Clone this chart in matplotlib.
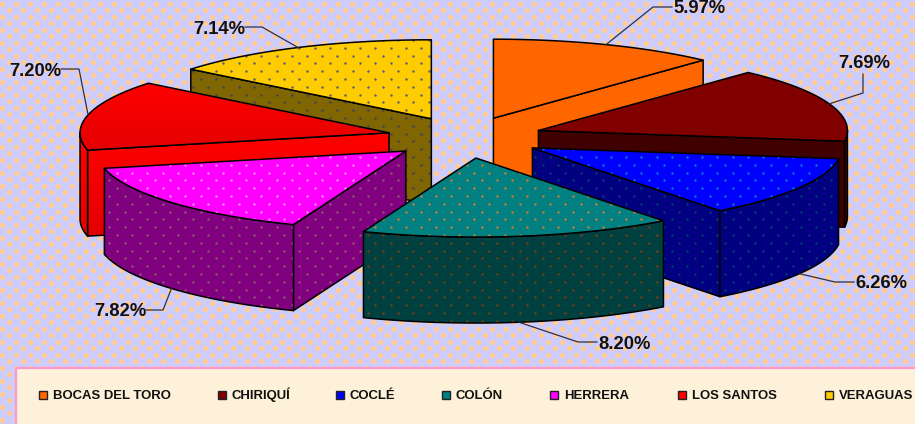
import numpy as np
import matplotlib
matplotlib.use("Agg")
import matplotlib.pyplot as plt
from matplotlib.patches import Polygon, Rectangle
from matplotlib.colors import LinearSegmentedColormap

# ---- data ----
categories = ["BOCAS DEL TORO", "CHIRIQUÍ", "COCLÉ", "COLÓN", "HERRERA", "LOS SANTOS", "VERAGUAS"]
values = [5.97, 7.69, 6.26, 8.20, 7.82, 7.20, 7.14]
value_labels = ["5.97%", "7.69%", "6.26%", "8.20%", "7.82%", "7.20%", "7.14%"]

# ---- styles ----
top_colors = ["#FF6600", "#800000", "#0000FF", "#008080", "#FF00FF", "#FF0000", "#FFCC00"]
side_colors = ["#FF6600", "#400000", "#000080", "#004040", "#800080", "#FF0000", "#806600"]
top_dots = [None, None, "#0A7CD0", "#D87E2A", "#FF90FF", None, "#5A5A80"]
side_dots = [None, None, "#00406F", "#803C10", "#905C70", None, "#404060"]
BG, BG_DOT, CREAM, PINK = "#CCCCFF", "#FFCC99", "#FDF1DA", "#FF99CC"
FONT = "Liberation Sans"

# ---- layout (pixels) ----
W, H = 915, 424
CX, CY, RX, RY, DEPTH = 465, 137.5, 309, 79, 86
EXPLODE = 0.2524
leader_elbows = [[(653, 7), (672, 7)], [(863, 93), (863, 74)], [(835, 282), (854, 282)],
                 [(578, 342), (597, 342)], [(163, 310), (146, 310)], [(79, 69), (61, 69)],
                 [(262, 27), (245, 27)]]
label_xy = [(700, 13), (864, 67.5), (881, 288), (625, 349), (120, 316), (35, 76), (219, 34)]
legend_swatch_x = [39, 218, 336, 442, 550, 678, 825]
LEGEND_Y = 394.5

fig = plt.figure(figsize=(W / 100, H / 100), dpi=100)
ax = fig.add_axes([0, 0, 1, 1])
ax.set_axis_off()

zorder = [1]
def nz():
    zorder[0] += 1
    return zorder[0]

def lattice(x0, x1, y0, y1, dx, dy):
    pts = []
    for i, y in enumerate(np.arange(y0, y1 + dy, dy)):
        off = dx / 2 if i % 2 else 0
        for x in np.arange(x0 + off, x1 + dx, dx):
            pts.append((x, y))
    return np.array(pts)

def shape(xy, color, dots=None, gradient=False):
    xy = np.asarray(xy)
    p = Polygon(xy, closed=True, facecolor=color, edgecolor="none", zorder=nz())
    ax.add_patch(p)
    if gradient:
        cmap = LinearSegmentedColormap.from_list("g", ["#FF0000", "#E40000"])
        im = ax.imshow(np.linspace(0, 1, 64).reshape(-1, 1), cmap=cmap, aspect="auto",
                       extent=(xy[:, 0].min(), xy[:, 0].max(), xy[:, 1].max(), xy[:, 1].min()),
                       zorder=nz())
        im.set_clip_path(p)
    if dots:
        x0 = np.floor(xy[:, 0].min() / 15.2) * 15.2 + 3
        y0 = np.floor(xy[:, 1].min() / 7.8) * 7.8 + 1
        g = lattice(x0, xy[:, 0].max(), y0, xy[:, 1].max(), 15.2, 7.8)
        s = ax.scatter(g[:, 0], g[:, 1], s=3.0, c=dots, linewidths=0, zorder=nz())
        s.set_clip_path(p)
    ax.add_patch(Polygon(xy, closed=True, fill=False, edgecolor="black", linewidth=1.1,
                         joinstyle="round", zorder=nz()))

# background
ax.add_patch(Rectangle((0, 0), W, H, facecolor=BG, edgecolor="none", zorder=0))
g = lattice(-5, W, -3, H, 14, 6.5)
ax.scatter(g[:, 0], g[:, 1], s=16, c=BG_DOT, linewidths=0, zorder=1)

# slices
total = sum(values)
bounds = np.cumsum([0] + values) / total * 360
mids = (bounds[:-1] + bounds[1:]) / 2

def ell(ang, ax_, ay_):
    a = np.radians(ang)
    return np.column_stack([ax_ + RX * np.sin(a), ay_ - RY * np.cos(a)])

order = np.argsort(-np.cos(np.radians(mids)))
leader_starts = {}
for i in order:
    a0, a1, m = bounds[i], bounds[i + 1], mids[i]
    mr = np.radians(m)
    ax_ = CX + EXPLODE * RX * np.sin(mr)
    ay_ = CY - EXPLODE * RY * 1.04 * np.cos(mr)
    apex = np.array([ax_, ay_])
    grad = categories[i] == "LOS SANTOS"
    down = np.array([0, DEPTH])
    # visible cut faces only
    visible = []
    if a0 > 180:
        visible.append(a0)
    if a1 < 180:
        visible.append(a1)
    for ang in visible:
        e = ell(np.array([ang]), ax_, ay_)[0]
        shape([apex, e, e + down, apex + down], side_colors[i], side_dots[i], grad)
    # outer wall
    w0, w1 = max(a0, 90), min(a1, 270)
    if w1 > w0:
        arc = ell(np.linspace(w0, w1, 30), ax_, ay_)
        shape(np.vstack([arc, (arc + down)[::-1]]), side_colors[i], side_dots[i], grad)
    # top
    arc = ell(np.linspace(a0, a1, 40), ax_, ay_)
    shape(np.vstack([apex, arc]), top_colors[i], top_dots[i], grad)
    start = ell(np.array([m]), ax_, ay_)[0]
    leader_starts[i] = start + (down if np.cos(mr) < 0 else 0)

# leaders and labels
for i, lab in enumerate(value_labels):
    pts = np.vstack([leader_starts[i], leader_elbows[i]])
    ax.plot(pts[:, 0], pts[:, 1], color="#303040", lw=0.9, zorder=nz(), solid_joinstyle="miter")
    ax.text(*label_xy[i], lab, family=FONT, weight="bold", fontsize=13.2, color="#111111",
            ha="center", va="baseline", zorder=nz())

# legend
ax.add_patch(Rectangle((16, 368), W + 20, H, facecolor=CREAM, edgecolor=PINK, linewidth=1.6, zorder=nz()))
for i, name in enumerate(categories):
    ax.add_patch(Rectangle((legend_swatch_x[i], LEGEND_Y - 4), 8, 8, facecolor=top_colors[i],
                           edgecolor="#222222", linewidth=1.0, zorder=nz()))
    ax.text(legend_swatch_x[i] + 14, LEGEND_Y + 4.5, name, family=FONT, weight="bold", fontsize=9.45,
            color="#111111", ha="left", va="baseline", zorder=nz())

ax.set_xlim(0, W)
ax.set_ylim(H, 0)
fig.savefig("out.png", dpi=100)
